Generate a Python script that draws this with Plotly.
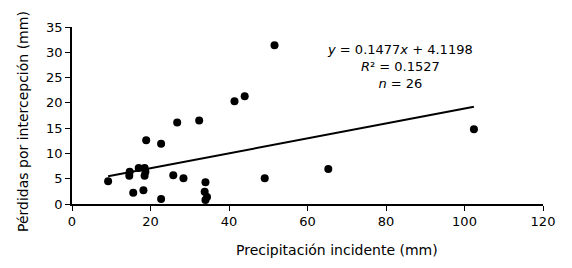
import plotly.graph_objects as go

precip = [9.2, 14.7, 14.6, 15.6, 17.0, 18.5, 18.7, 18.5, 18.2, 18.9, 22.7, 22.7, 26.8,
          25.8, 28.4, 32.4, 34.0, 33.8, 34.4, 34.0, 41.4, 44.0, 49.1, 51.6, 65.3, 102.4]
perdidas = [4.5, 6.4, 5.6, 2.2, 7.1, 7.1, 6.4, 5.6, 2.7, 12.6, 11.9, 1.0, 16.1,
            5.7, 5.1, 16.5, 4.3, 2.4, 1.4, 0.8, 20.3, 21.3, 5.1, 31.4, 6.9, 14.8]
slope = 0.1477
intercept = 4.1198
r2 = 0.1527
n_obs = 26
x_ticks = [0, 20, 40, 60, 80, 100, 120]
y_ticks = [0, 5, 10, 15, 20, 25, 30, 35]
x_title = "Precipitación incidente (mm)"
y_title = "Pérdidas por intercepción (mm)"

xmin, xmax = min(precip), max(precip)
fit_x = [xmin, xmax]
fit_y = [slope * v + intercept for v in fit_x]

font = "DejaVu Sans, Verdana, sans-serif"
fig = go.Figure()
fig.add_trace(go.Scatter(x=fit_x, y=fit_y, mode="lines",
                         line=dict(color="black", width=2), showlegend=False))
fig.add_trace(go.Scatter(x=precip, y=perdidas, mode="markers",
                         marker=dict(color="black", size=8), showlegend=False))

fig.add_annotation(x=83.6, y=32.4, xref="x", yref="y", showarrow=False,
                   align="center", yanchor="top",
                   text=f"<i>y</i> = {slope}<i>x</i> + {intercept}<br><i>R</i>² = {r2}<br><i>n</i> = {n_obs}",
                   font=dict(family=font, size=13, color="black"))

# axis titles placed as annotations to match reference positions
fig.add_annotation(x=0.0, y=-0.26, xref="paper", yref="paper", showarrow=False,
                   xanchor="center", yanchor="middle", xshift=265,
                   text=x_title, font=dict(family=font, size=14, color="black"))
fig.add_annotation(x=0.0, y=0.463, xref="paper", yref="paper", showarrow=False,
                   xanchor="center", yanchor="middle", xshift=-49, textangle=-90,
                   text=y_title, font=dict(family=font, size=14, color="black"))

# page body has an 8px default margin; size the figure to fit the window
fig.update_layout(
    width=564, height=260,
    margin=dict(l=64, r=29, t=19, b=64),
    paper_bgcolor="white", plot_bgcolor="white",
    font=dict(family=font, size=13, color="black"),
    xaxis=dict(range=[0, 120], tickvals=x_ticks, showgrid=False, zeroline=False,
               showline=True, linecolor="black", linewidth=1.5, automargin=False,
               ticks="outside", ticklen=5, tickcolor="black"),
    yaxis=dict(range=[0, 35], tickvals=y_ticks, showgrid=False, zeroline=False,
               showline=True, linecolor="black", linewidth=1.5, automargin=False,
               ticks="outside", ticklen=5, tickcolor="black"),
)
fig.write_html("out.html")
